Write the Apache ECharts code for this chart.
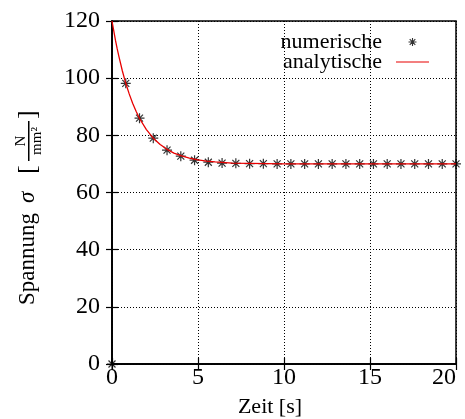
<!DOCTYPE html>
<html><head><meta charset="utf-8">
<script src="https://cdn.jsdelivr.net/npm/echarts@6/dist/echarts.min.js"></script>
<style>html,body{margin:0;padding:0;background:#fff;overflow:hidden}#c{width:465px;height:419px}</style>
</head><body><div id="c"></div>
<script>
const xTicks = [0, 5, 10, 15, 20];
const yTicks = [0, 20, 40, 60, 80, 100, 120];
const numTime = [0, 0.8, 1.6, 2.4, 3.2, 4.0, 4.8, 5.6, 6.4, 7.2, 8.0, 8.8, 9.6, 10.4, 11.2, 12.0, 12.8, 13.6, 14.4, 15.2, 16.0, 16.8, 17.6, 18.4, 19.2, 20.0];
const numStress = [0, 98.2, 86.0, 79.0, 74.8, 72.7, 71.3, 70.6, 70.3, 70.2, 70.1, 70.1, 70.0, 70.0, 70.0, 70.0, 70.0, 70.0, 70.0, 70.0, 70.0, 70.0, 70.0, 70.0, 70.0, 70.0];
const anaTime = [0, 0.1, 0.2, 0.3, 0.4, 0.6, 0.8, 1.0, 1.2, 1.4, 1.6, 2.0, 2.4, 2.8, 3.2, 3.6, 4.0, 4.5, 5.0, 5.5, 6.0, 7.0, 8.0, 9.0, 10.0, 12.0, 14.0, 16.0, 18.0, 20.0];
const anaStress = [120, 116.6, 113.3, 110.3, 107.6, 102.6, 98.2, 94.5, 91.2, 88.4, 85.9, 82.0, 79.0, 76.8, 75.1, 73.8, 72.9, 72.0, 71.4, 71.0, 70.7, 70.3, 70.2, 70.1, 70.0, 70.0, 70.0, 70.0, 70.0, 70.0];
const seriesNames = ['numerische', 'analytische'];
const xTitle = 'Zeit [s]';

const FF = '"Liberation Serif", "DejaVu Serif", serif';
const RED = '#e80000';
const ASTER = 'path://M0,-1L0,1M-1,0L1,0M-0.7,-0.7L0.7,0.7M-0.7,0.7L0.7,-0.7';
const ASTER_LEG = 'path://M-1.75,-1.75M1.75,1.75M0,-1L0,1M-1,0L1,0M-0.7,-0.7L0.7,0.7M-0.7,0.7L0.7,-0.7';
const LINE_LEG = 'path://M0,0M33,14M0,6.4L33,6.4L33,7.6L0,7.6Z';

const xStep = xTicks[1] - xTicks[0];
const yStep = yTicks[1] - yTicks[0];
const xMin = xTicks[0], xMax = xTicks[xTicks.length - 1];
const yMin = yTicks[0], yMax = yTicks[yTicks.length - 1];

const chart = echarts.init(document.getElementById('c'), null, {renderer: 'canvas'});
const axisLine = {show: true, lineStyle: {color: '#000', width: 1.5}};
const tick = {show: true, inside: true, length: 6, lineStyle: {color: '#000', width: 1.2}};
const split = {show: true, lineStyle: {color: '#000', width: 1, type: [1, 2]}};

chart.setOption({
  animation: false,
  backgroundColor: '#fff',
  grid: {left: 112, right: 9, top: 21, bottom: 55, show: true, borderColor: '#000', borderWidth: 1.5, containLabel: false},
  xAxis: [{
    type: 'value', min: xMin, max: xMax, interval: xStep, position: 'bottom',
    axisLine, axisTick: tick, splitLine: split,
    axisLabel: {color: '#000', fontFamily: FF, fontSize: 24, margin: 2, alignMaxLabel: 'right'}
  }, {
    type: 'value', min: xMin, max: xMax, interval: xStep, position: 'top',
    axisLine, axisTick: tick, splitLine: {show: false}, axisLabel: {show: false}
  }],
  yAxis: [{
    type: 'value', min: yMin, max: yMax, interval: yStep, position: 'left',
    axisLine, axisTick: tick, splitLine: split,
    axisLabel: {color: '#000', fontFamily: FF, fontSize: 24, margin: 12}
  }, {
    type: 'value', min: yMin, max: yMax, interval: yStep, position: 'right',
    axisLine, axisTick: tick, splitLine: {show: false}, axisLabel: {show: false}
  }],
  legend: {
    orient: 'vertical', align: 'right', right: 31, top: 26,
    itemWidth: 33, itemHeight: 14, itemGap: -2,
    textStyle: {color: '#000', fontFamily: FF, fontSize: 22, padding: [0, 9, 0, 0]},
    data: [
      {name: seriesNames[0], icon: ASTER_LEG, itemStyle: {color: 'transparent', borderColor: '#000', borderWidth: 1.1}},
      {name: seriesNames[1], icon: LINE_LEG, itemStyle: {color: RED, borderWidth: 0}}
    ]
  },
  series: [{
    name: seriesNames[0], type: 'scatter', xAxisIndex: 0, yAxisIndex: 0,
    symbol: ASTER, symbolSize: 10,
    itemStyle: {color: 'transparent', borderColor: '#000', borderWidth: 1.2},
    data: numTime.map((t, i) => [t, numStress[i]]),
    z: 3
  }, {
    name: seriesNames[1], type: 'line', xAxisIndex: 0, yAxisIndex: 0,
    symbol: 'none', smooth: false,
    lineStyle: {color: RED, width: 1.3},
    itemStyle: {color: RED},
    data: anaTime.map((t, i) => [t, anaStress[i]]),
    z: 4
  }],
  graphic: [{
    type: 'text', x: 270, y: 407,
    style: {text: xTitle, fontFamily: FF, fontSize: 22, fill: '#000', align: 'center', verticalAlign: 'middle'}
  }, {
    type: 'group', x: 28, y: 305, rotation: Math.PI / 2,
    children: [
      {type: 'text', x: 0, y: 0, style: {text: 'Spannung', fontFamily: FF, fontSize: 23, fill: '#000', align: 'left', verticalAlign: 'middle'}},
      {type: 'text', x: 102, y: 0, style: {text: 'σ', fontFamily: FF, fontStyle: 'italic', fontSize: 23, fill: '#000', align: 'left', verticalAlign: 'middle'}},
      {type: 'text', x: 131, y: 0, style: {text: '[', fontFamily: FF, fontSize: 26, fill: '#000', align: 'left', verticalAlign: 'middle'}},
      {type: 'text', x: 164, y: -7, style: {text: 'N', fontFamily: FF, fontSize: 15, fill: '#000', align: 'center', verticalAlign: 'middle'}},
      {type: 'rect', shape: {x: 144, y: 0, width: 40, height: 1.5}, style: {fill: '#000'}},
      {type: 'text', x: 164, y: 9, style: {text: 'mm²', fontFamily: FF, fontSize: 15, fill: '#000', align: 'center', verticalAlign: 'middle'}},
      {type: 'text', x: 186, y: 0, style: {text: ']', fontFamily: FF, fontSize: 26, fill: '#000', align: 'left', verticalAlign: 'middle'}}
    ]
  }]
});
</script></body></html>
